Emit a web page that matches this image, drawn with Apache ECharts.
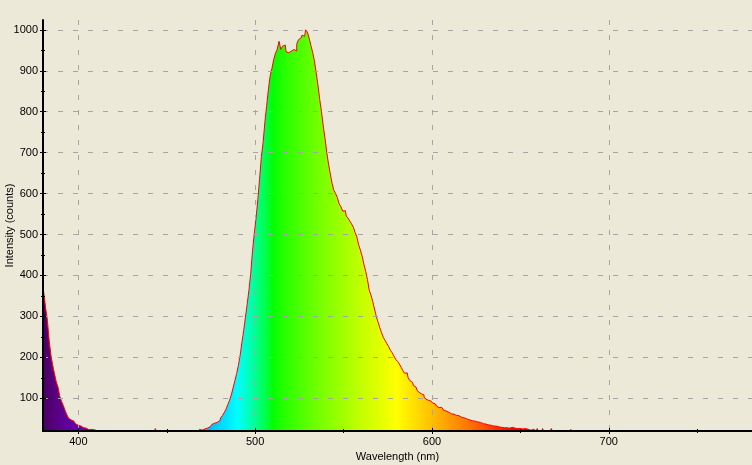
<!DOCTYPE html>
<html><head><meta charset="utf-8">
<script src="https://cdn.jsdelivr.net/npm/echarts@6/dist/echarts.min.js"></script>
<style>html,body{margin:0;padding:0;background:#ECE9D8;}#c{width:752px;height:465px;}</style>
</head><body><div id="c"></div>
<script>
// sampling grid of the spectrum (nm)
const wavelengthStart = 380;
const wavelengthStep = 1;
// intensity (counts), one value per nm
const intensity380to429 = [375,355,320,290,240,205,180,160,140,127, 105,92,82,70,60,51,47,44,40,37, 34,32,30,28,27,25,23,24,22,23, 21,23,18,15,19,14,16,13,17,12, 15,14,12,16,13,11,14,12,15,13];
const intensity430to479 = [12,14,11,13,12,15,11,13,12,14, 12,13,11,15,26,12,13,11,14,12, 13,11,12,14,12,13,11,14,12,13, 12,14,13,15,14,16,15,17,19,24, 22,25,24,27,30,33,36,39,41,43];
const intensity480to529 = [45,52,58,65,73,84,95,108,125,142, 160,180,205,236,265,298,330,365,405,460, 502,540,585,635,690,725,775,815,855,888, 906,928,943,953,972,952,960,963,946,944, 948,944,952,948,965,976,980,987,984,1000];
const intensity530to579 = [995,980,962,945,925,895,865,830,800,765, 735,700,672,648,625,608,600,590,575,568, 557,558,545,540,533,526,518,505,494,475, 462,447,427,410,390,364,352,336,318,300, 286,272,260,248,241,233,226,217,211,203];
const intensity580to629 = [195,190,184,176,168,161,162,150,143,139, 131,127,120,115,111,108,103,98,95,93, 91,88,86,81,77,78,74,71,69,66, 64,62,61,59,58,57,55,53,52,50, 49,47,46,45,44,42,42,41,39,38];
const intensity630to679 = [37,37,35,34,33,32,32,31,30,29, 28,28,28,27,27,29,30,27,26,25, 26,25,24,26,24,23,22,24,21,20, 26,18,19,26,17,18,16,19,26,17, 15,16,14,17,15,13,16,14,15,24];
const intensity680to700 = [14,12,15,13,12,14,11,13,12,14, 12,11,13,12,14,11,12,13,11,12,12];

const xLabelValues = [400, 500, 600, 700];
const xMinorValues = [450, 550, 650, 750];
const yLabelValues = [100, 200, 300, 400, 500, 600, 700, 800, 900, 1000];
const yMinorValues = [150, 250, 350, 450, 550, 650, 750, 850, 950];

const intensity = [].concat(intensity380to429, intensity430to479, intensity480to529,
  intensity530to579, intensity580to629, intensity630to679, intensity680to700);
const seriesData = intensity.map((v, i) => [wavelengthStart + i * wavelengthStep, v]);
const firstNm = seriesData[0][0], lastNm = seriesData[seriesData.length - 1][0];

// visible-spectrum colour of a wavelength (Bruton, gamma 0.8)
function nmColor(w) {
  let r = 0, g = 0, b = 0;
  if (w < 440) { r = 0.7 * (440 - w) / 60; b = 1; }
  else if (w < 490) { g = (w - 440) / 50; b = 1; }
  else if (w < 510) { g = 1; b = (510 - w) / 20; }
  else if (w < 580) { r = (w - 510) / 70; g = 1; }
  else if (w < 645) { r = 1; g = (645 - w) / 65; }
  else { r = 1; }
  let f = 1;
  if (w < 420) f = 0.3 + 0.7 * (w - 380) / 40;
  else if (w > 700) f = 0.3 + 0.7 * (780 - w) / 80;
  const c = x => Math.round(255 * Math.pow(Math.max(0, x * f), 0.8));
  return 'rgb(' + c(r) + ',' + c(g) + ',' + c(b) + ')';
}
const colorStops = [];
for (let w = firstNm; w <= lastNm; w += 2) {
  colorStops.push({ offset: (w - firstNm) / (lastNm - firstNm), color: nmColor(w) });
}

const font = { fontFamily: 'Liberation Sans', fontSize: 11, color: '#000' };
const X_MIN = 380, X_MAX = 781, Y_MIN = 20, Y_MAX = 1024;
const dash = { color: '#a5a5a5', width: 1, type: [5, 10] };
const plain = v => String(v);

function extraX(values, len, inside) {
  return { type: 'value', min: X_MIN, max: X_MAX, position: 'bottom', offset: 0, z: 10,
    axisLine: { show: false, onZero: false }, axisLabel: { show: false }, splitLine: { show: false },
    axisTick: { show: true, customValues: values, length: len, inside: inside, lineStyle: { color: '#000', width: 1 } } };
}
function extraY(values, len, inside) {
  return { type: 'value', min: Y_MIN, max: Y_MAX, position: 'left', offset: 0, z: 10,
    axisLine: { show: false, onZero: false }, axisLabel: { show: false }, splitLine: { show: false },
    axisTick: { show: true, customValues: values, length: len, inside: inside, lineStyle: { color: '#000', width: 1 } } };
}

const chart = echarts.init(document.getElementById('c'), null, { renderer: 'canvas' });
chart.setOption({
  animation: false,
  backgroundColor: '#ECE9D8',
  grid: { left: 43, right: 0, top: 20, bottom: 34, containLabel: false, outerBoundsMode: 'none' },
  xAxis: [
    { type: 'value', min: X_MIN, max: X_MAX, position: 'bottom', z: 10,
      name: 'Wavelength (nm)', nameLocation: 'middle', nameGap: 20, nameMoveOverlap: false, nameTextStyle: font,
      axisLine: { show: true, onZero: false, lineStyle: { color: '#000', width: 2 } },
      axisTick: { show: true, customValues: xLabelValues, length: 3, lineStyle: { color: '#000', width: 1 } },
      axisLabel: { show: true, customValues: xLabelValues, margin: 5, formatter: plain, ...font },
      splitLine: { show: true, customValues: xLabelValues, lineStyle: dash } },
    extraX(xLabelValues, 3, true),
    extraX(xMinorValues, 2, false),
    extraX(xMinorValues, 2, true)
  ],
  yAxis: [
    { type: 'value', min: Y_MIN, max: Y_MAX, position: 'left', z: 10,
      name: 'Intensity (counts)', nameLocation: 'middle', nameGap: 28, nameMoveOverlap: false, nameRotate: 90, nameTextStyle: font,
      axisLine: { show: true, onZero: false, lineStyle: { color: '#000', width: 2 } },
      axisTick: { show: true, customValues: yLabelValues, length: 3, lineStyle: { color: '#000', width: 1 } },
      axisLabel: { show: true, customValues: yLabelValues, margin: 5, formatter: plain, ...font },
      splitLine: { show: true, customValues: yLabelValues, lineStyle: dash } },
    extraY(yLabelValues, 3, true),
    extraY(yMinorValues, 2, false),
    extraY(yMinorValues, 2, true)
  ],
  series: [{
    type: 'line', xAxisIndex: 0, yAxisIndex: 0, data: seriesData, step: 'middle',
    showSymbol: false, symbol: 'none', sampling: null, clip: true, z: 2,
    lineStyle: { color: '#ff0000', width: 1 },
    areaStyle: { opacity: 1, color: { type: 'linear', x: 0, y: 0, x2: 1, y2: 0, colorStops: colorStops } }
  }]
});
</script></body></html>
